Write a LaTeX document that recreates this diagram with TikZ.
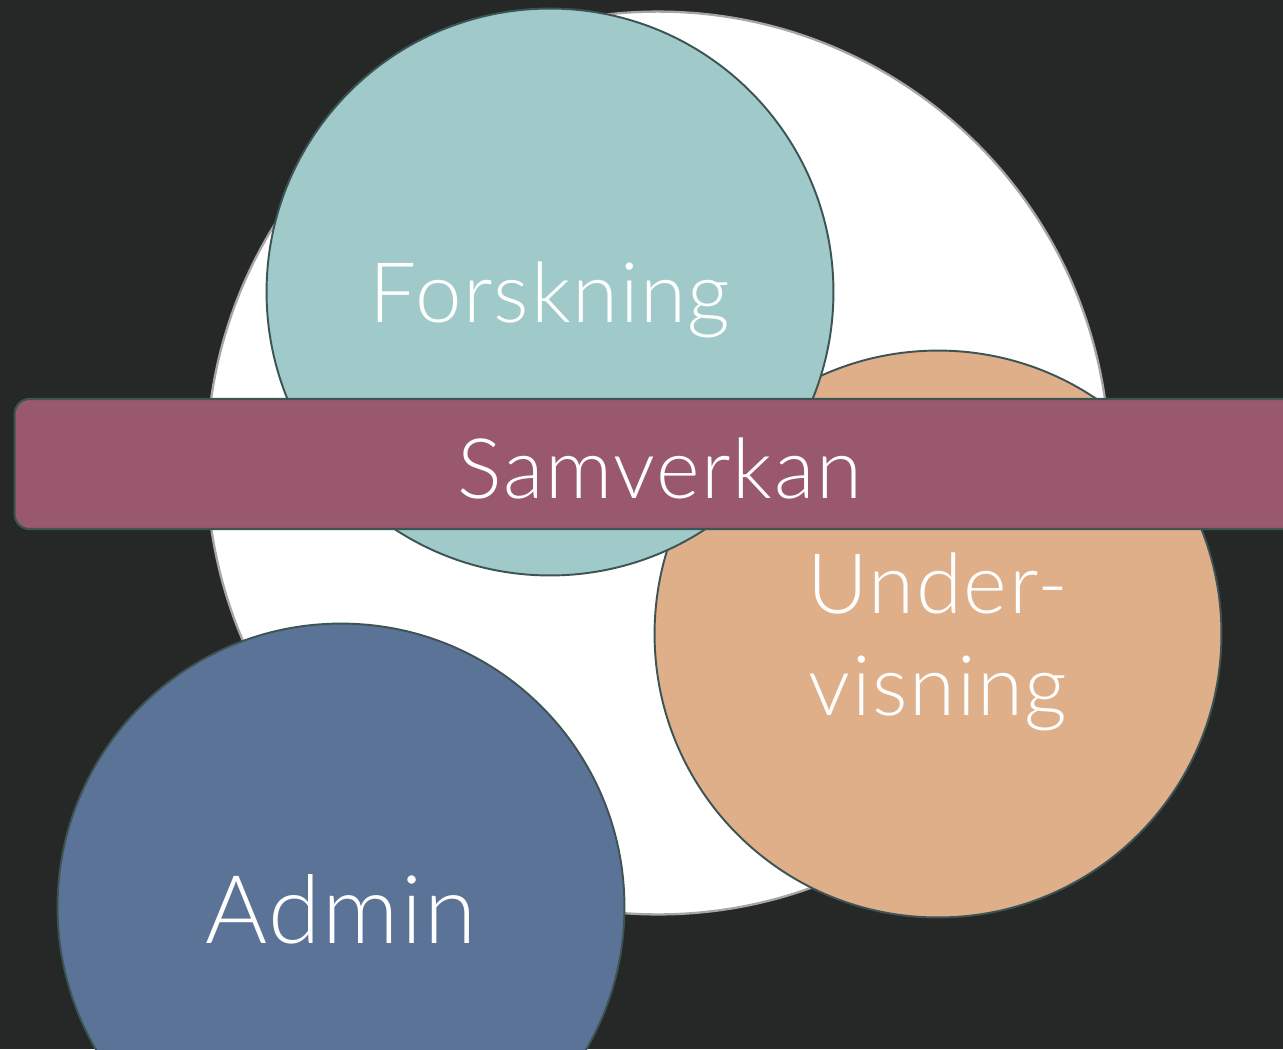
\documentclass[tikz,border=0pt]{standalone}
\usepackage{fontspec}
\setmainfont{Lato}[UprightFont=* Light,LetterSpace=2]
\usepackage{tikz}
\usetikzlibrary{positioning}

\definecolor{bgdark}{HTML}{262827}
\definecolor{edgeslate}{HTML}{3D5454}
\definecolor{forskteal}{HTML}{9FCAC9}
\definecolor{undpeach}{HTML}{DFAF8A}
\definecolor{adminblue}{HTML}{5C7398}
\definecolor{samplum}{HTML}{9A586F}

\begin{document}
\begin{tikzpicture}
  [
   x=0.02cm, y=-0.02cm,
   ring/.style={circle,fill=white,draw=gray!70,line width=1.3pt,inner sep=0pt,minimum size=18.06cm},
   dot/.style={circle,draw=edgeslate,line width=1.1pt,inner sep=0pt,minimum size=11.34cm},
   fn/.style={dot,fill=forskteal},
   un/.style={dot,fill=undpeach},
   an/.style={dot,fill=adminblue},
   lbl/.style={text=white,align=center,inner sep=0pt,font=\fontsize{47.5}{58}\selectfont},
   sbar/.style={rectangle,rounded corners=0.3cm,fill=samplum,draw=edgeslate,line width=1.2pt,
               inner sep=0pt,minimum width=25.9cm,minimum height=2.6cm}
  ]
   \fill[bgdark] (0,0) rectangle (1283,1049);
   \clip (0,0) rectangle (1283,1049);

   \node[ring] (whole) at (658,463) {};
   \node[un] (under) at (938,634) {};
   \node[fn] (forsk) at (550,292) {};
   \node[sbar] (samv) at (662,464) {};
   \node[an] (admin) at (341,907) {};

   \node[lbl] (forsktxt) at ([yshift=-0.16cm]forsk.center) {Forskning};
   \node[lbl] (undertxt) at ([yshift=-0.16cm]under.center) {Under-\\visning};
   \node[lbl] (samvtxt) at (660,468) {Samverkan};
   \node[lbl,font=\fontsize{54}{64}\selectfont] (admintxt) at ([yshift=-0.04cm]admin.center) {Admin};

\end{tikzpicture}
\end{document}
